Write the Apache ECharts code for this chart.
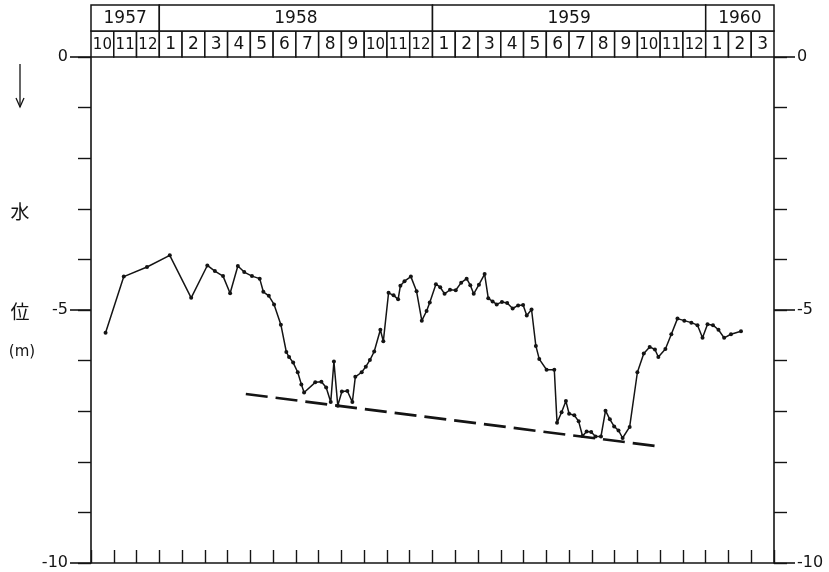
<!DOCTYPE html>
<html>
<head>
<meta charset="utf-8">
<script src="https://cdn.jsdelivr.net/npm/echarts@6/dist/echarts.min.js"></script>
<style>
  html, body { margin: 0; padding: 0; background: #fff; }
  #chart { width: 829px; height: 572px; }
</style>
</head>
<body>
<div id="chart"></div>
<script>
// Month position along the x axis, counted in months from the start of Oct 1957
const obsMonth = [
  0.64, 1.44, 2.46, 3.46, 4.40, 5.11, 5.44, 5.80, 6.11, 6.45,
  6.73, 7.07, 7.41, 7.57, 7.81, 8.04, 8.34, 8.58, 8.70, 8.88,
  9.08, 9.24, 9.36, 9.85, 10.12, 10.33, 10.53, 10.67, 10.84, 11.02,
  11.26, 11.48, 11.61, 11.89, 12.07, 12.25, 12.44, 12.71, 12.84, 13.07,
  13.29, 13.49, 13.59, 13.77, 14.05, 14.30, 14.53, 14.74, 14.88, 15.15,
  15.34, 15.53, 15.77, 16.02, 16.26, 16.50, 16.66, 16.81, 17.04, 17.29,
  17.45, 17.64, 17.82, 18.05, 18.28, 18.52, 18.76, 18.98, 19.14, 19.35,
  19.54, 19.69, 20.01, 20.35, 20.47, 20.67, 20.86, 21.00, 21.23, 21.42,
  21.59, 21.77, 21.97, 22.16, 22.40, 22.60, 22.79, 22.98, 23.17, 23.35,
  23.66, 24.00, 24.28, 24.54, 24.77, 24.92, 25.23, 25.49, 25.76, 26.06,
  26.37, 26.64, 26.86, 27.08, 27.32, 27.56, 27.81, 28.11, 28.55
];
// Water level (m)
const waterLevel = [
  -5.45, -4.34, -4.15, -3.92, -4.76, -4.12, -4.23, -4.33, -4.67, -4.13,
  -4.25, -4.33, -4.38, -4.64, -4.72, -4.89, -5.29, -5.83, -5.93, -6.04,
  -6.23, -6.47, -6.63, -6.43, -6.42, -6.53, -6.82, -6.02, -6.89, -6.61,
  -6.60, -6.82, -6.32, -6.23, -6.12, -5.99, -5.82, -5.39, -5.62, -4.66,
  -4.71, -4.79, -4.52, -4.43, -4.34, -4.63, -5.21, -5.02, -4.85, -4.49,
  -4.55, -4.68, -4.60, -4.61, -4.46, -4.38, -4.51, -4.68, -4.50, -4.29,
  -4.77, -4.83, -4.89, -4.84, -4.86, -4.97, -4.91, -4.90, -5.11, -4.99,
  -5.71, -5.97, -6.18, -6.18, -7.23, -7.02, -6.80, -7.05, -7.08, -7.20,
  -7.49, -7.40, -7.41, -7.50, -7.50, -6.99, -7.16, -7.30, -7.38, -7.53,
  -7.31, -6.23, -5.86, -5.73, -5.78, -5.93, -5.77, -5.48, -5.17, -5.21,
  -5.25, -5.30, -5.55, -5.28, -5.30, -5.39, -5.55, -5.48, -5.42
];
// Trend of the low-water level (start and end)
const trendMonth = [6.80, 24.86];
const trendLevel = [-6.66, -7.69];

// Labelled levels on both side axes
const majorLevels = [0, -5, -10];
const majorLabels = ['0', '-5', '-10'];

// Header labels
const monthLabels = ['10','11','12','1','2','3','4','5','6','7','8','9','10','11','12',
                     '1','2','3','4','5','6','7','8','9','10','11','12','1','2','3'];
const yearLabels = ['1957', '1958', '1959', '1960'];
const yearSpans = [3, 12, 12, 3];

const INK = '#141414';
const MONTHS = monthLabels.length;

// Header cells: [start month, end month, row]; row 1 = years, row 0 = months
const headerCells = [];
const headerText = [];
monthLabels.forEach((m, i) => { headerCells.push([i, i + 1, 0]); headerText.push(m); });
let acc = 0;
yearLabels.forEach((y, i) => {
  headerCells.push([acc, acc + yearSpans[i], 1]);
  headerText.push(y);
  acc += yearSpans[i];
});

const chart = echarts.init(document.getElementById('chart'), null, { renderer: 'canvas' });

// Side axes carrying the 1 m ticks
function levelAxis(pos) {
  return {
    type: 'value', min: -10, max: 0, interval: 1, gridIndex: 0, position: pos,
    splitLine: { show: false },
    axisLine: { show: true, onZero: false, lineStyle: { color: INK, width: 1.6 } },
    axisTick: { show: true, inside: false, length: 13, lineStyle: { color: INK, width: 1.4 } },
    axisLabel: { show: false }
  };
}

chart.setOption({
  animation: false,
  backgroundColor: '#fff',
  grid: [
    { left: 91, top: 57, width: 683, height: 506 },
    { left: 91, top: 5, width: 683, height: 52 }
  ],
  xAxis: [
    {
      type: 'value', gridIndex: 0, min: 0, max: MONTHS, interval: 1, position: 'bottom',
      splitLine: { show: false },
      axisLine: { show: true, onZero: false, lineStyle: { color: INK, width: 1.6 } },
      axisTick: { show: true, inside: true, length: 13, lineStyle: { color: INK, width: 1.4 } },
      axisLabel: { show: false }
    },
    {
      type: 'value', gridIndex: 1, min: 0, max: MONTHS, show: false
    }
  ],
  yAxis: [
    levelAxis('left'),
    levelAxis('right'),
    { type: 'value', gridIndex: 1, min: 0, max: 2, show: false }
  ],
  series: [
    {
      type: 'line',
      xAxisIndex: 0, yAxisIndex: 0,
      data: obsMonth.map((m, i) => [m, waterLevel[i]]),
      symbol: 'circle', symbolSize: 4,
      itemStyle: { color: INK },
      lineStyle: { color: INK, width: 1.5 },
      silent: true
    },
    {
      type: 'line',
      xAxisIndex: 0, yAxisIndex: 0,
      data: trendMonth.map((m, i) => [m, trendLevel[i]]),
      symbol: 'none',
      lineStyle: { color: INK, width: 2.7, type: [22, 8] },
      silent: true
    },
    {
      // long outward ticks and their labels at the 5 m levels, on both sides
      type: 'custom',
      xAxisIndex: 0, yAxisIndex: 0,
      data: majorLevels.map(v => [0, v]),
      silent: true,
      clip: false,
      z: 50,
      renderItem: function (params, api) {
        const v = api.value(1);
        const label = majorLabels[params.dataIndex];
        const l = api.coord([0, v]);
        const r = api.coord([MONTHS, v]);
        const bar = { fill: INK, stroke: null };
        const font = { fontSize: 16, fontFamily: 'DejaVu Sans', fill: INK, verticalAlign: 'middle' };
        return {
          type: 'group',
          children: [
            { type: 'rect', shape: { x: l[0] - 21, y: l[1] - 0.8, width: 21, height: 1.6 }, style: bar },
            { type: 'rect', shape: { x: r[0], y: r[1] - 0.8, width: 21, height: 1.6 }, style: bar },
            { type: 'text', style: Object.assign({ text: label, x: l[0] - 23, y: l[1], align: 'right' }, font) },
            { type: 'text', style: Object.assign({ text: label, x: r[0] + 23, y: r[1], align: 'left' }, font) }
          ]
        };
      }
    },
    {
      type: 'custom',
      xAxisIndex: 1, yAxisIndex: 2,
      data: headerCells,
      silent: true,
      renderItem: function (params, api) {
        const x0 = api.value(0), x1 = api.value(1), row = api.value(2);
        const tl = api.coord([x0, row + 1]);
        const br = api.coord([x1, row]);
        const label = headerText[params.dataIndex];
        return {
          type: 'group',
          children: [
            {
              type: 'rect',
              shape: { x: tl[0], y: tl[1], width: br[0] - tl[0], height: br[1] - tl[1] },
              style: { fill: '#fff', stroke: INK, lineWidth: 1.5 }
            },
            {
              type: 'text',
              style: {
                text: label,
                x: (tl[0] + br[0]) / 2, y: (tl[1] + br[1]) / 2 + 1,
                align: 'center', verticalAlign: 'middle',
                fontSize: row === 1 ? 17 : (label.length > 1 ? 15 : 17),
                fontFamily: 'DejaVu Sans',
                fill: INK
              }
            }
          ]
        };
      }
    }
  ],
  graphic: [
    { type: 'line', shape: { x1: 20, y1: 64, x2: 20, y2: 107 }, style: { stroke: INK, lineWidth: 1.3 } },
    { type: 'polyline', shape: { points: [[16, 98], [20, 107], [24, 98]] }, style: { stroke: INK, lineWidth: 1.3, fill: null } },
    { type: 'text', style: { text: '水', x: 20, y: 212, align: 'center', verticalAlign: 'middle', fontSize: 19, fontFamily: 'Noto Sans CJK JP', fill: INK } },
    { type: 'text', style: { text: '位', x: 20, y: 312, align: 'center', verticalAlign: 'middle', fontSize: 19, fontFamily: 'Noto Sans CJK JP', fill: INK } },
    { type: 'text', style: { text: '(m)', x: 22, y: 352, align: 'center', verticalAlign: 'middle', fontSize: 15, fontFamily: 'DejaVu Sans', fill: INK } }
  ]
});
</script>
</body>
</html>
